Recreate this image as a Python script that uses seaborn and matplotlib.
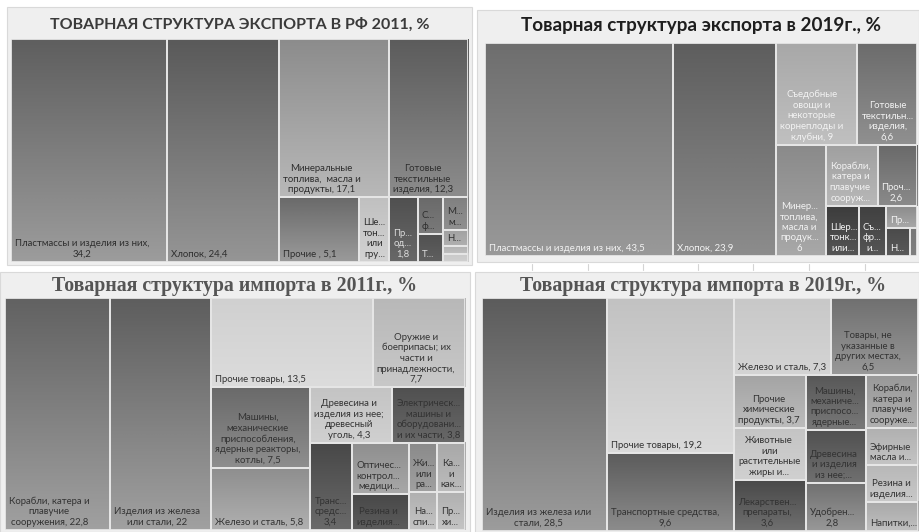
import numpy as np
import matplotlib
matplotlib.use("Agg")
import matplotlib.pyplot as plt
from matplotlib.patches import Rectangle
import seaborn as sns

# ---- data -------------------------------------------------------------
exp11_labels = ["Пластмассы и изделия из них,\n{v}", "Хлопок, {v}",
                "Минеральные\nтоплива,  масла и\nпродукты, {v}",
                "Готовые\nтекстильные\nизделия, {v}", "Прочие , {v}",
                "Ше...\nтон...\nили\nгру...", "Пр...\nод...\n{v}",
                "С...\nф...", "Т...", "М...\nм...", "Н...", "", ""]
exp11_values = [34.2, 24.4, 17.1, 12.3, 5.1, 1.9, 1.8, 0.9, 0.7, 0.8, 0.4, 0.2, 0.2]

exp19_labels = ["Пластмассы и изделия из них, {v}", "Хлопок, {v}",
                "Съедобные\nовощи и\nнекоторые\nкорнеплоды и\nклубни, {v}",
                "Готовые\nтекстильн...\nизделия,\n{v}",
                "Минер...\nтоплива,\nмасла и\nпродук...\n{v}",
                "Корабли,\nкатера и\nплавучие\nсооруж...", "Проч...\n{v}",
                "Шер...\nтонк...\nили...", "Съ...\nфр...\nи...", "Пр...",
                "Н...", ""]
exp19_values = [43.5, 23.9, 9, 6.6, 6, 3.4, 2.6, 1.8, 1.5, 0.75, 0.75, 0.2]

imp11_labels = ["Корабли, катера и\nплавучие\nсооружения, {v}",
                "Изделия из железа\nили стали, {v}", "Прочие товары, {v}",
                "Оружие и\nбоеприпасы; их\nчасти и\nпринадлежности,\n{v}",
                "Машины,\nмеханические\nприспособления,\nядерные реакторы,\nкотлы, {v}",
                "Железо и сталь, {v}",
                "Древесина и\nизделия из нее;\nдревесный\nуголь, {v}",
                "Электрическ...\nмашины и\nоборудовани...\nи их части, {v}",
                "Транс...\nсредс...\n{v}",
                "Оптичес...\nконтрол...\nмедици...", "Резина и\nизделия...",
                "Жи...\nили\nра...", "На...\nспи...",
                "Ка...\nи\nкак...", "Пр...\nхи..."]
imp11_values = [22.8, 22, 13.5, 7.7, 7.5, 5.8, 4.3, 3.8, 3.4,
                2.7, 1.9, 1.3, 1.0, 1.3, 1.0]

imp19_labels = ["Изделия из железа или\nстали, {v}", "Прочие товары, {v}",
                "Транспортные средства,\n{v}", "Железо и сталь, {v}",
                "Товары, не\nуказанные в\nдругих местах,\n{v}",
                "Прочие\nхимические\nпродукты, {v}",
                "Животные\nили\nрастительные\nжиры и...",
                "Лекарствен...\nпрепараты,\n{v}",
                "Машины,\nмеханиче...\nприспосо...\nядерные...",
                "Древесина\nи изделия\nиз нее;...", "Удобрен...\n{v}",
                "Корабли,\nкатера и\nплавучие\nсооруже...",
                "Эфирные\nмасла и...", "Резина и\nизделия...", "Напитки,..."]
imp19_values = [28.5, 19.2, 9.6, 7.3, 6.5, 3.7, 3.65, 3.6,
                3.2, 3.1, 2.8, 2.7, 1.9, 1.85, 1.5]

titles = ["ТОВАРНАЯ СТРУКТУРА ЭКСПОРТА В РФ 2011, %",
          "Товарная структура экспорта в 2019г., %",
          "Товарная структура импорта в 2011г., %",
          "Товарная структура импорта в 2019г., %"]

# ---- layout / style ----------------------------------------------------
# strips: (number of items, 'v' column on the left / 'h' row on top)
exp11_strips = [(1, 'v'), (1, 'v'), (2, 'h'), (1, 'v'), (1, 'v'), (1, 'v'), (2, 'v'), (4, 'v')]
exp19_strips = [(1, 'v'), (1, 'v'), (2, 'h'), (1, 'v'), (2, 'h'), (1, 'v'), (1, 'v'),
                (1, 'h'), (1, 'v'), (1, 'v')]
imp11_strips = [(1, 'v'), (1, 'v'), (2, 'h'), (2, 'v'), (2, 'h'), (1, 'v'), (2, 'v'), (2, 'v'), (2, 'v')]
imp19_strips = [(1, 'v'), (2, 'v'), (2, 'h'), (3, 'v'), (3, 'v'), (4, 'v')]

# (top gray, bottom gray) per tile
exp11_shades = [(0x5f, 0x9c), (0x5a, 0x95), (0x8c, 0xb8), (0x5c, 0x8c), (0x6a, 0x9a),
                (0xc0, 0xd2), (0x50, 0x68), (0x6a, 0x7a), (0x50, 0x60), (0x80, 0x90),
                (0xa0, 0xb0), (0xb0, 0xc0), (0xc8, 0xd0)]
exp19_shades = [(0x6e, 0x99), (0x5e, 0x8c), (0xa8, 0xc0), (0x6c, 0x90), (0x8a, 0xa8),
                (0xa0, 0xb8), (0x6a, 0x8a), (0x3c, 0x55), (0x40, 0x55), (0x8a, 0xa8),
                (0x4a, 0x5a), (0x77, 0x80)]
imp11_shades = [(0x62, 0xa0), (0x5e, 0xa0), (0xd0, 0xdc), (0xb8, 0xc8), (0x6a, 0x8e),
                (0x8e, 0xb0), (0xc4, 0xd0), (0x50, 0x68), (0x48, 0x6a), (0x8e, 0xa8),
                (0x48, 0x5c), (0x8a, 0xa0), (0xb0, 0xc4), (0xa8, 0xbc), (0xb0, 0xc4)]
imp19_shades = [(0x5c, 0x9c), (0xc2, 0xda), (0x5c, 0x8c), (0xc8, 0xd4), (0x70, 0x98),
                (0xa4, 0xbc), (0xc4, 0xd0), (0x48, 0x70), (0x58, 0x78), (0x50, 0x70),
                (0x70, 0x98), (0x98, 0xb0), (0xb0, 0xc4), (0xb8, 0xc8), (0xa8, 0xc0)]

W, H = 919, 532
panels = [
    dict(labels=exp11_labels, values=exp11_values, strips=exp11_strips, shades=exp11_shades,
         plot=(11, 39, 457, 223), frame=(7, 7, 465, 258), tpos=(240, 25),
         tfont=dict(family=['Lato', 'Noto Sans'], size=11.5, color='#3a3a3a'), text='auto'),
    dict(labels=exp19_labels, values=exp19_values, strips=exp19_strips, shades=exp19_shades,
         plot=(485, 43, 432, 213), frame=(477, 10, 442, 252), tpos=(701, 26),
         tfont=dict(family=['Lato', 'Noto Sans'], size=13.6, color='#1e1e1e'), text='#f2f2f2'),
    dict(labels=imp11_labels, values=imp11_values, strips=imp11_strips, shades=imp11_shades,
         plot=(5, 298, 460, 232), frame=(0, 272, 470, 260), tpos=(235, 286),
         tfont=dict(family=['Liberation Serif'], size=14.3, color='#555555'), text='#333333'),
    dict(labels=imp19_labels, values=imp19_values, strips=imp19_strips, shades=imp19_shades,
         plot=(482, 298, 436, 233), frame=(475, 272, 444, 260), tpos=(703, 286),
         tfont=dict(family=['Liberation Serif'], size=14.3, color='#555555'), text='#333333'),
]


def layout(values, strips, w, h):
    areas = np.asarray(values, float)
    areas = areas / areas.sum() * w * h
    x, y, rw, rh = 0.0, 0.0, float(w), float(h)
    rects, i = [], 0
    for n, d in strips:
        a = areas[i:i + n]
        if d == 'v':
            sw = a.sum() / rh
            yy = y
            for ai in a:
                rects.append((x, yy, sw, ai / sw))
                yy += ai / sw
            x += sw
            rw -= sw
        else:
            sh = a.sum() / rw
            xx = x
            for ai in a:
                rects.append((xx, y, ai / sh, sh))
                xx += ai / sh
            y += sh
            rh -= sh
        i += n
    return rects


def fmt(v):
    return ('%g' % v).replace('.', ',')


def gray(g):
    return '#%02x%02x%02x' % (g, g, g)


sns.set_theme(style="white")
plt.rcParams['font.family'] = ['Lato', 'Noto Sans', 'DejaVu Sans']

fig = plt.figure(figsize=(W / 100, H / 100), dpi=100)
grad = np.linspace(0, 1, 64).reshape(-1, 1)

for k, p in enumerate(panels):
    fx, fy, fw, fh = p['frame']
    fig.add_artist(Rectangle((fx / W, 1 - (fy + fh) / H), fw / W, fh / H,
                             transform=fig.transFigure, facecolor='#efefef',
                             edgecolor='#d9d9d9', lw=0.8, zorder=-1))
    fig.text(p['tpos'][0] / W, 1 - p['tpos'][1] / H, titles[k],
             ha='center', va='center', fontweight='bold', **p['tfont'])

    px, py, pw, ph = p['plot']
    ax = fig.add_axes([px / W, 1 - (py + ph) / H, pw / W, ph / H])
    rects = layout(p['values'], p['strips'], pw, ph)
    for (x, y, rw, rh), lab, v, (top, bot) in zip(rects, p['labels'], p['values'], p['shades']):
        cmap = sns.blend_palette([gray(top), gray(bot)], as_cmap=True)
        ax.imshow(grad, cmap=cmap, vmin=0, vmax=1, aspect='auto', origin='upper',
                  extent=(x, x + rw, y + rh, y), interpolation='bilinear')
        ax.add_patch(Rectangle((x, y), rw, rh, fill=False, edgecolor='#e6e6e6', lw=1.3))
        if lab:
            if p['text'] == 'auto':
                tc = '#dcdcdc' if top < 0x58 else '#2e2e2e'
            else:
                tc = p['text']
            ax.text(x + 4, y + rh - 3, lab.format(v=fmt(v)), ha='left', va='bottom',
                    multialignment='center', fontsize=6.9, color=tc, linespacing=1.22)
    ax.set_xlim(0, pw)
    ax.set_ylim(ph, 0)
    ax.axis('off')

# faint table grid remnants under the upper right panel
for gx in [532, 588, 643, 698, 753, 809, 865]:
    fig.add_artist(plt.Line2D([gx / W] * 2, [1 - 264 / H, 1 - 270 / H],
                              transform=fig.transFigure, color='#d4d4d4', lw=0.8))

fig.savefig("out.png", dpi=100)
